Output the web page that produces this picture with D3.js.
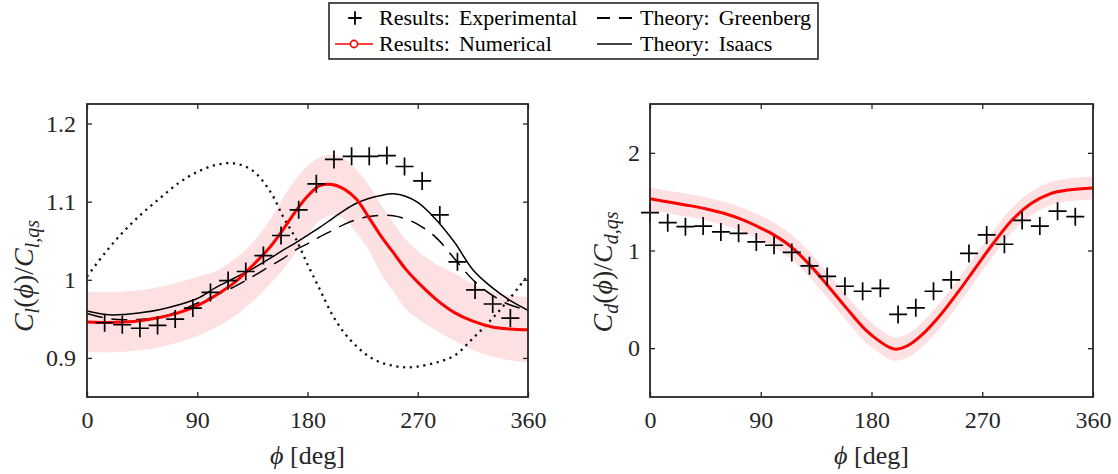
<!DOCTYPE html>
<html>
<head>
<meta charset="utf-8">
<script src="https://cdn.jsdelivr.net/npm/d3@7"></script>
<style>
  body { margin: 0; background: #fff; }
</style>
</head>
<body>
<svg id="chart" width="1118" height="474"></svg>
<script>
// ---- lift coefficient panel (left) ----
const clPhi = [0, 15, 30, 45, 60, 75, 90, 105, 120, 135, 150, 160, 170, 180, 190, 200,
  210, 220, 230, 240, 250, 260, 270, 285, 300, 315, 330, 345, 360];
const clNumerical = [0.946, 0.9455, 0.946, 0.948, 0.952, 0.958, 0.967, 0.980, 0.996, 1.018,
  1.043, 1.064, 1.087, 1.107, 1.1205, 1.122, 1.116, 1.103, 1.080, 1.056, 1.035, 1.014,
  0.997, 0.975, 0.958, 0.947, 0.940, 0.937, 0.936];
const clNumUpper = [0.985, 0.984, 0.985, 0.987, 0.991, 0.997, 1.004, 1.011, 1.026, 1.047,
  1.078, 1.105, 1.128, 1.146, 1.157, 1.160, 1.155, 1.141, 1.121, 1.096, 1.073, 1.052,
  1.037, 1.020, 1.008, 0.995, 0.985, 0.980, 0.978];
const clNumLower = [0.9075, 0.907, 0.908, 0.910, 0.914, 0.920, 0.928, 0.939, 0.953, 0.972,
  0.996, 1.013, 1.034, 1.058, 1.076, 1.083, 1.078, 1.060, 1.038, 1.008, 0.985, 0.963,
  0.950, 0.935, 0.922, 0.910, 0.902, 0.897, 0.894];
const clIsaacs = [0.960, 0.9555, 0.9555, 0.958, 0.962, 0.968, 0.976, 0.990, 1.002, 1.014,
  1.028, 1.038, 1.047, 1.057, 1.067, 1.078, 1.089, 1.098, 1.104, 1.108, 1.110, 1.107,
  1.099, 1.077, 1.048, 1.013, 0.991, 0.974, 0.961];
const clGreenberg = [0.957, 0.951, 0.949, 0.9495, 0.952, 0.960, 0.970, 0.980, 0.991, 1.004,
  1.018, 1.027, 1.038, 1.046, 1.055, 1.063, 1.071, 1.077, 1.081, 1.0825, 1.082, 1.078,
  1.071, 1.054, 1.027, 1.000, 0.981, 0.968, 0.961];
const clMotion = [1.004, 1.035, 1.062, 1.085, 1.105, 1.124, 1.138, 1.147, 1.149, 1.140,
  1.112, 1.081, 1.054, 1.020, 0.988, 0.956, 0.932, 0.915, 0.902, 0.894, 0.890, 0.888,
  0.889, 0.894, 0.903, 0.925, 0.949, 0.976, 1.006];
const clExpPhi = [14.4, 28.8, 43.2, 57.6, 72, 86.4, 100.8, 115.2, 129.6, 144, 158.4, 172.8,
  187.2, 201.6, 216, 230.4, 244.8, 259.2, 273.6, 288, 302.4, 316.8, 331.2, 345.6];
const clExperimental = [0.945, 0.9425, 0.938, 0.9416, 0.9497, 0.9638, 0.9838, 0.999, 1.0106,
  1.031, 1.0567, 1.0895, 1.1228, 1.154, 1.158, 1.158, 1.159, 1.145, 1.1266, 1.083, 1.023,
  0.987, 0.969, 0.951];

// ---- drag coefficient panel (right) ----
const cdPhi = [0, 15, 30, 45, 60, 75, 90, 100, 115, 130, 145, 160, 175, 185, 195, 200,
  210, 220, 235, 250, 265, 280, 295, 310, 325, 340, 360];
const cdNumerical = [1.529, 1.497, 1.464, 1.428, 1.381, 1.316, 1.230, 1.165, 1.035, 0.850,
  0.632, 0.405, 0.190, 0.085, 0.005, -0.010, 0.030, 0.125, 0.325, 0.568, 0.831, 1.090,
  1.322, 1.483, 1.580, 1.620, 1.641];
const cdNumUpper = [1.645, 1.612, 1.580, 1.545, 1.500, 1.438, 1.355, 1.292, 1.162, 0.979,
  0.762, 0.535, 0.320, 0.210, 0.125, 0.108, 0.150, 0.250, 0.455, 0.698, 0.961, 1.220,
  1.448, 1.605, 1.698, 1.737, 1.757];
const cdNumLower = [1.413, 1.382, 1.348, 1.311, 1.262, 1.194, 1.105, 1.040, 0.907, 0.721,
  0.502, 0.275, 0.060, -0.040, -0.115, -0.128, -0.090, 0.000, 0.195, 0.438, 0.701, 0.960,
  1.196, 1.361, 1.462, 1.503, 1.525];
const cdExpPhi = [0, 14.4, 28.8, 43.2, 57.6, 72, 86.4, 100.8, 115.2, 129.6, 144, 158.4,
  172.8, 187.2, 201.6, 216, 230.4, 244.8, 259.2, 273.6, 288, 302.4, 316.8, 331.2, 345.6];
const cdExperimental = [1.387, 1.285, 1.244, 1.25, 1.19, 1.176, 1.088, 1.054, 0.98, 0.843,
  0.735, 0.634, 0.583, 0.613, 0.345, 0.413, 0.583, 0.70, 0.97, 1.159, 1.064, 1.308, 1.25,
  1.403, 1.346];

// ---- axes ----
const phiTicks = [0, 90, 180, 270, 360];
const clTicks = [0.9, 1, 1.1, 1.2];
const cdTicks = [0, 1, 2];

const legendLabels = [['Results:', 'Experimental'], ['Results:', 'Numerical'],
  ['Theory:', 'Greenberg'], ['Theory:', 'Isaacs']];

const serif = '"Liberation Serif", "DejaVu Serif", serif';
const svg = d3.select('#chart');
const defs = svg.append('defs');
const axisColor = '#262626';
const crossPath = 'M-9,0H9M0,-9V9';

function styleAxis(g) {
  g.select('.domain').remove();
  g.selectAll('line').attr('stroke', axisColor).attr('stroke-width', 1.3);
  g.selectAll('text').attr('fill', axisColor).style('font-size', '24px');
}

function yLabel(x, y, sub) {
  const t = svg.append('text')
    .attr('transform', `translate(${x},${y}) rotate(-90)`)
    .attr('text-anchor', 'middle')
    .attr('fill', axisColor)
    .style('font-size', '28px');
  t.append('tspan').style('font-style', 'italic').text('C');
  t.append('tspan').style('font-style', 'italic').style('font-size', '20px').attr('dy', 6).text(sub);
  t.append('tspan').attr('dy', -6).text('(');
  t.append('tspan').style('font-style', 'italic').text('\u03d5');
  t.append('tspan').text(')/');
  t.append('tspan').style('font-style', 'italic').text('C');
  t.append('tspan').style('font-style', 'italic').style('font-size', '20px').attr('dy', 6).text(sub + ',qs');
}

function drawPanel(cfg) {
  const x = d3.scaleLinear().domain([0, 360]).range([cfg.left, cfg.right]);
  const y = d3.scaleLinear().domain(cfg.yDomain).range([cfg.bottom, cfg.top]);

  defs.append('clipPath').attr('id', cfg.id)
    .append('rect')
    .attr('x', cfg.left).attr('y', cfg.top)
    .attr('width', cfg.right - cfg.left).attr('height', cfg.bottom - cfg.top);

  const plot = svg.append('g').attr('clip-path', `url(#${cfg.id})`);

  // uncertainty band of the numerical result
  const band = d3.area()
    .x((d, i) => x(cfg.phi[i]))
    .y0((d, i) => y(cfg.lower[i]))
    .y1(d => y(d))
    .curve(d3.curveCatmullRom);
  plot.append('path').datum(cfg.upper).attr('d', band).attr('fill', '#fde1e2');

  const line = phi => d3.line()
    .x((d, i) => x(phi[i]))
    .y(d => y(d))
    .curve(d3.curveCatmullRom);

  if (cfg.motion) {
    plot.append('path').datum(cfg.motion).attr('d', line(cfg.phi))
      .attr('fill', 'none').attr('stroke', '#111').attr('stroke-width', 2.3)
      .attr('stroke-dasharray', '2.2 4.6');
  }
  if (cfg.greenberg) {
    plot.append('path').datum(cfg.greenberg).attr('d', line(cfg.phi))
      .attr('fill', 'none').attr('stroke', '#000').attr('stroke-width', 1.5)
      .attr('stroke-dasharray', '16 9');
  }
  if (cfg.isaacs) {
    plot.append('path').datum(cfg.isaacs).attr('d', line(cfg.phi))
      .attr('fill', 'none').attr('stroke', '#000').attr('stroke-width', 1.5);
  }
  plot.append('path').datum(cfg.numerical).attr('d', line(cfg.phi))
    .attr('fill', 'none').attr('stroke', '#ff0000').attr('stroke-width', 3);

  // experimental crosses (markers are not clipped)
  svg.append('g').selectAll('path')
    .data(cfg.exp)
    .join('path')
    .attr('d', crossPath)
    .attr('transform', (d, i) => `translate(${x(cfg.expPhi[i])},${y(d)})`)
    .attr('stroke', '#000').attr('stroke-width', 1.7).attr('fill', 'none');

  // axes with inward ticks on all four sides
  svg.append('g').attr('transform', `translate(0,${cfg.bottom})`)
    .call(d3.axisBottom(x).tickValues(phiTicks).tickSize(-5).tickPadding(14).tickFormat(d3.format('d')))
    .call(styleAxis);
  svg.append('g').attr('transform', `translate(0,${cfg.top})`)
    .call(d3.axisTop(x).tickValues(phiTicks).tickSize(-5).tickFormat(''))
    .call(styleAxis);
  svg.append('g').attr('transform', `translate(${cfg.left},0)`)
    .call(d3.axisLeft(y).tickValues(cfg.yTicks).tickSize(-5).tickPadding(cfg.yPad).tickFormat(d => String(+d.toFixed(2))))
    .call(styleAxis);
  svg.append('g').attr('transform', `translate(${cfg.right},0)`)
    .call(d3.axisRight(y).tickValues(cfg.yTicks).tickSize(-5).tickFormat(''))
    .call(styleAxis);

  svg.append('rect')
    .attr('x', cfg.left).attr('y', cfg.top)
    .attr('width', cfg.right - cfg.left).attr('height', cfg.bottom - cfg.top)
    .attr('fill', 'none').attr('stroke', axisColor).attr('stroke-width', 1.8);

  // x label
  const xl = svg.append('text')
    .attr('x', (cfg.left + cfg.right) / 2).attr('y', 464)
    .attr('text-anchor', 'middle').attr('fill', axisColor)
    .style('font-size', '26px');
  xl.append('tspan').style('font-style', 'italic').text('\u03d5');
  xl.append('tspan').text(' [deg]');

  yLabel(cfg.yLabelX, cfg.yLabelY, cfg.sub);
}

drawPanel({
  id: 'clipL', left: 87, right: 528, top: 104, bottom: 397,
  yDomain: [0.85, 1.225], yTicks: clTicks, yPad: 11,
  phi: clPhi, numerical: clNumerical, upper: clNumUpper, lower: clNumLower,
  isaacs: clIsaacs, greenberg: clGreenberg, motion: clMotion,
  expPhi: clExpPhi, exp: clExperimental,
  sub: 'l', yLabelX: 33, yLabelY: 276
});

drawPanel({
  id: 'clipR', left: 650, right: 1093, top: 104, bottom: 397,
  yDomain: [-0.5, 2.5], yTicks: cdTicks, yPad: 10,
  phi: cdPhi, numerical: cdNumerical, upper: cdNumUpper, lower: cdNumLower,
  expPhi: cdExpPhi, exp: cdExperimental,
  sub: 'd', yLabelX: 612, yLabelY: 272
});

// ---- legend ----
const lg = svg.append('g');
lg.append('rect')
  .attr('x', 329).attr('y', 3).attr('width', 489).attr('height', 56)
  .attr('fill', '#fff').attr('stroke', axisColor).attr('stroke-width', 1.6);

const rowY = [18, 44];
const colX = [379, 640];
const legText = (label, cx, cy) => {
  const t = lg.append('text').attr('x', cx).attr('y', cy + 7)
    .attr('fill', '#000').style('font-size', '22px');
  t.append('tspan').text(label[0]);
  t.append('tspan').attr('dx', 9).text(label[1]);
};

// experimental
lg.append('path').attr('d', crossPath)
  .attr('transform', `translate(355,${rowY[0]}) scale(0.75)`)
  .attr('stroke', '#000').attr('stroke-width', 2.4).attr('fill', 'none');
legText(legendLabels[0], colX[0], rowY[0]);
// numerical
lg.append('line').attr('x1', 335).attr('x2', 373).attr('y1', rowY[1]).attr('y2', rowY[1])
  .attr('stroke', '#ff0000').attr('stroke-width', 1.6);
lg.append('circle').attr('cx', 354).attr('cy', rowY[1]).attr('r', 3.6)
  .attr('fill', '#fff').attr('stroke', '#ff0000').attr('stroke-width', 1.6);
legText(legendLabels[1], colX[0], rowY[1]);
// greenberg
lg.append('line').attr('x1', 597).attr('x2', 632).attr('y1', rowY[0]).attr('y2', rowY[0])
  .attr('stroke', '#000').attr('stroke-width', 1.8).attr('stroke-dasharray', '13 9');
legText(legendLabels[2], colX[1], rowY[0]);
// isaacs
lg.append('line').attr('x1', 597).attr('x2', 632).attr('y1', rowY[1]).attr('y2', rowY[1])
  .attr('stroke', '#000').attr('stroke-width', 1.6);
legText(legendLabels[3], colX[1], rowY[1]);

svg.selectAll('text').style('font-family', serif);
</script>
</body>
</html>
